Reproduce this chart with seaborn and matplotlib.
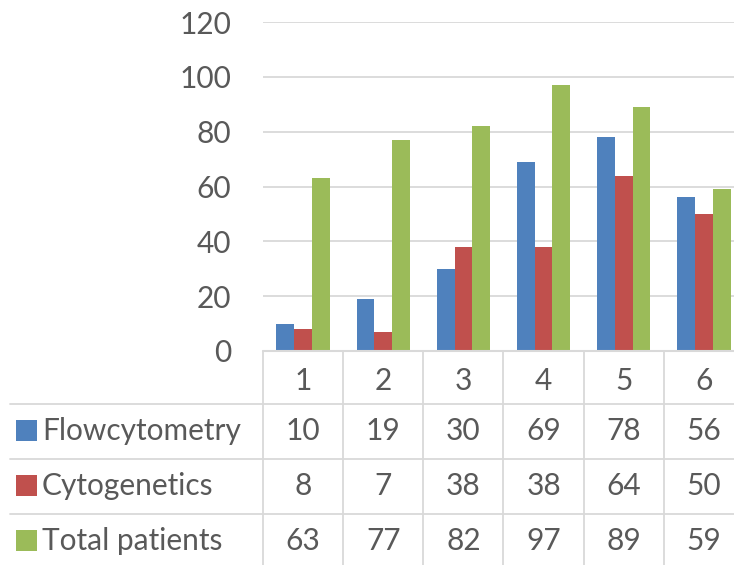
import matplotlib
matplotlib.use("Agg")
import matplotlib.pyplot as plt
import matplotlib.transforms as mtransforms
from matplotlib.lines import Line2D
from matplotlib.patches import Rectangle
import seaborn as sns
import pandas as pd

# Data
categories = ["1", "2", "3", "4", "5", "6"]
series_names = ["Flowcytometry", "Cytogenetics", "Total patients"]
flowcytometry = [10, 19, 30, 69, 78, 56]
cytogenetics = [8, 7, 38, 38, 64, 50]
total_patients = [63, 77, 82, 97, 89, 59]
y_ticks = [0, 20, 40, 60, 80, 100, 120]

colors = ["#4F81BD", "#C0504D", "#9BBB59"]
text_color = "#595959"
line_color = "#D9D9D9"
font_size = 21.5

sns.set_theme(style="white")
plt.rcParams["font.family"] = ["Lato", "DejaVu Sans"]

values = [flowcytometry, cytogenetics, total_patients]
df = pd.DataFrame({
    "category": categories * 3,
    "series": [s for s in series_names for _ in categories],
    "value": [v for vals in values for v in vals],
})

W, H = 734, 565
fig = plt.figure(figsize=(W / 100, H / 100), dpi=100)

left_px, right_px = 263, 744
zero_px, top_px = 351, 22
ax = fig.add_axes([left_px / W, 1 - zero_px / H,
                   (right_px - left_px) / W, (zero_px - top_px) / H])

sns.barplot(data=df, x="category", y="value", hue="series",
            order=categories, hue_order=series_names, palette=colors,
            width=0.667, gap=0, saturation=1, linewidth=0, ax=ax)
ax.legend_.remove()
ax.set_xlim(-0.5, len(categories) - 0.5)
ax.set_ylim(0, 120)
ax.set_yticks(y_ticks)
ax.set_yticklabels([str(t) for t in y_ticks])
ax.tick_params(axis="y", length=0, pad=23, labelsize=font_size, labelcolor=text_color)
ax.set_xticks([])
ax.set_xlabel("")
ax.set_ylabel("")
for sp in ax.spines.values():
    sp.set_visible(False)
ax.yaxis.grid(True, color=line_color, linewidth=1.3)
ax.set_axisbelow(True)
ax.axhline(0, color=line_color, linewidth=1.5, clip_on=False)

# Data table under the chart (y measured in pixel rows from the top)
tab = fig.add_axes([left_px / W, 0, (right_px - left_px) / W, (H - zero_px) / H])
tab.set_xlim(-0.5, len(categories) - 0.5)
tab.set_ylim(H, zero_px)
tab.axis("off")
blend = mtransforms.blended_transform_factory(fig.transFigure, tab.transData)

row_lines = [404, 459, 514]
for y in row_lines:
    tab.add_line(Line2D([10 / W, 1.0], [y, y], transform=blend,
                        color=line_color, linewidth=1.3, clip_on=False))
for i in range(len(categories) + 1):
    tab.add_line(Line2D([i - 0.5, i - 0.5], [zero_px, H], color=line_color,
                        linewidth=1.3, clip_on=False))

header_y = 381
row_y = [431, 486, 541]
for i, c in enumerate(categories):
    tab.text(i, header_y, c, ha="center", va="center",
             fontsize=font_size, color=text_color)

for r, (name, vals) in enumerate(zip(series_names, values)):
    y = row_y[r]
    tab.add_patch(Rectangle((16 / W, y - 10.5), 21 / W, 21, transform=blend,
                            facecolor=colors[r], edgecolor="none", clip_on=False))
    tab.text(42 / W, y, name, transform=blend, ha="left", va="center",
             fontsize=font_size, color=text_color)
    for i, v in enumerate(vals):
        tab.text(i, y, str(v), ha="center", va="center",
                 fontsize=font_size, color=text_color)

fig.savefig("out.png", dpi=100)
